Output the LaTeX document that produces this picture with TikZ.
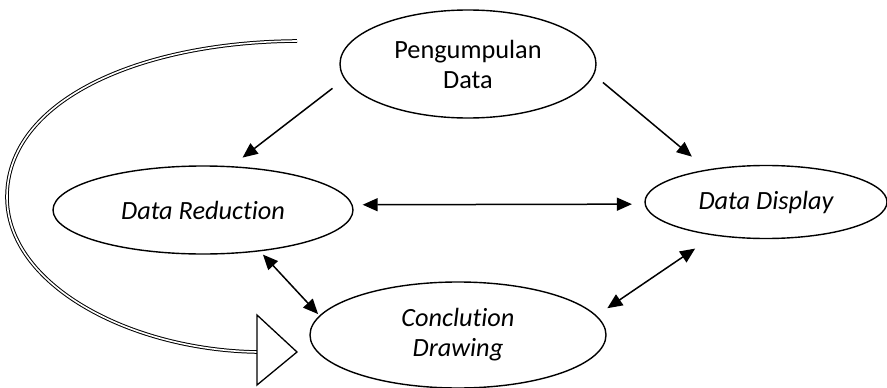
\documentclass[tikz,border=0pt]{standalone}
\usepackage{fontspec}
\setmainfont{Carlito}[Ligatures=NoCommon]
\usetikzlibrary{arrows.meta, shapes}

\begin{document}
\begin{tikzpicture}[x=1pt, y=-1pt, every node/.style={align=center}]
\tikzset{
  block/.style={
    ellipse, draw=black, line width=1.4pt, inner sep=0pt,
    font=\fontsize{26.3}{30}\selectfont
  },
  slanted/.style={block, font=\fontsize{26.3}{30}\selectfont\itshape},
  arrow/.style={line width=1.5pt, -{Triangle[length=15pt, width=13pt]}},
  twoway/.style={line width=1.5pt, {Triangle[length=15pt, width=13pt]}-{Triangle[length=15pt, width=13pt]}},
  cycleline/.style={double, line width=1pt, double distance=1.6pt},
  cyclehead/.style={line width=1.3pt, fill=white}
}
\useasboundingbox (0,0) rectangle (887,388);

\node (collect) [block, minimum width=256pt, minimum height=108pt] at (468,64) {Pengumpulan\\Data};

\node (reduction) [slanted, minimum width=300pt, minimum height=88pt] at (203,210) {Data Reduction};

\node (display) [slanted, minimum width=242pt, minimum height=73pt] at (766,202) {Data Display};

\node (concl) [slanted, minimum width=296pt, minimum height=106pt] at (458,335) {Conclution\\Drawing};

\draw [arrow, shorten <=15pt, shorten >=14pt] (collect.187) -- (reduction.57);
\draw [arrow, shorten <=11.6pt, shorten >=20pt] (collect.355) -- (display.151);
\draw [twoway, shorten <=10pt, shorten >=12.6pt] (reduction.2) -- (display.181);
\draw [twoway, shorten <=4.4pt, shorten >=2pt] (reduction.324) -- (concl.172);
\draw [twoway, shorten <=23pt, shorten >=13pt] (display.213) -- (concl.8);

% feedback loop
\coordinate (cyclestart) at (297,41);
\coordinate (cycleend) at (257,352);
\draw [cycleline] (cyclestart) .. controls (140,42) and (7,100) .. (7,197)
  .. controls (7,285) and (130,350) .. (cycleend);
\draw [cyclehead] (cycleend) ++(0,-37) -- ++(40,37) -- ++(-40,33) -- cycle;
\end{tikzpicture}
\end{document}
